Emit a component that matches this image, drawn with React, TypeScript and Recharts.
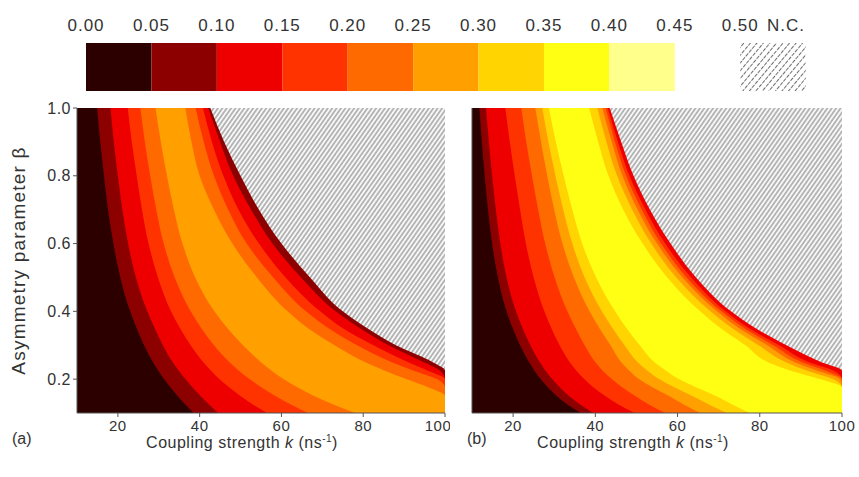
import React from "react";
import { AreaChart, Area, BarChart, Bar, XAxis, YAxis, CartesianGrid } from "recharts";

const betaRows = [1.0, 0.9, 0.8, 0.7, 0.6, 0.5, 0.4, 0.35, 0.3, 0.25, 0.225, 0.2, 0.175, 0.15, 0.125, 0.1];

// panel (a): coupling strength k (ns^-1) of each contour edge, per beta row
const aRise05 = [14.9, 15.7, 16.6, 17.6, 18.9, 20.6, 23, 24.6, 26.4, 28.6, 29.9, 31.3, 32.9, 34.6, 36.5, 38.5];
const aRise10 = [18.2, 19, 20, 21.1, 22.5, 24.4, 27.2, 29, 31, 33.4, 34.9, 36.5, 38.3, 40.2, 42.3, 44.5];
const aRise15 = [22.4, 23.4, 24.6, 25.9, 27.5, 29.8, 33, 35.2, 37.8, 40.9, 42.8, 44.8, 47.3, 50, 53, 56.5];
const aRise20 = [25.5, 26.6, 27.9, 29.4, 31.2, 33.9, 37.8, 40.4, 43.5, 47.3, 49.6, 52.2, 55.2, 58.5, 62.3, 66.5];
const aRise25 = [29.2, 30.5, 32, 33.7, 35.8, 38.9, 43.6, 46.8, 50.6, 55, 57.6, 60.5, 64, 68, 72.7, 78];
const aFall25 = [36.5, 38, 40, 43.5, 48, 54, 61.5, 66.5, 73, 80.5, 85.3, 90.5, 96, 100, 100, 100];
const aFall20 = [39, 41, 43.5, 47, 51.5, 58, 66, 71.5, 78.5, 87, 92.3, 98, 100, 100, 100, 100];
const aFall15 = [40.8, 43, 45.8, 49.5, 54.5, 61, 69.5, 75, 82.5, 91, 95.8, 100, 100, 100, 100, 100];
const aFall10 = [42.1, 45, 48.2, 52.6, 57.8, 64.8, 73.3, 79.2, 86.2, 94.8, 98.8, 100, 100, 100, 100, 100];
const aEdgeNC = [42.6, 46, 50, 54.5, 60, 67, 75, 81, 88, 97, 100, 100, 100, 100, 100, 100];

// panel (b)
const bRise05 = [11.8, 12.4, 13.1, 13.9, 14.9, 16.3, 18.4, 19.9, 21.7, 23.9, 25.2, 26.7, 28.5, 30.6, 33.2, 36.5];
const bRise10 = [13.4, 14.1, 14.9, 15.8, 16.9, 18.4, 20.7, 22.3, 24.2, 26.5, 27.9, 29.5, 31.4, 33.6, 36.3, 39.5];
const bRise15 = [18.1, 19.2, 20.4, 21.7, 23.1, 25, 27.6, 29.3, 31.3, 33.8, 35.4, 37.3, 39.6, 42.4, 45.6, 49.5];
const bRise20 = [22, 23.2, 24.6, 26.1, 27.8, 30.1, 33.2, 35.2, 37.4, 40, 41.8, 44, 46.6, 49.7, 53, 57];
const bRise25 = [25.4, 26.8, 28.3, 30, 32, 34.8, 38.6, 41, 43.7, 46.3, 48.3, 50.6, 54, 57.9, 61.5, 65.5];
const bRise30 = [27.1, 28.6, 30.3, 32.2, 34.4, 37.4, 41.6, 44.2, 47.1, 50.3, 52.7, 55.5, 59.3, 63.6, 67.6, 72];
const bRise35 = [28.7, 30.4, 32.3, 34.4, 36.8, 40.2, 44.8, 47.6, 50.8, 54.4, 57.2, 60.3, 64.6, 69.3, 73.3, 77.5];
const bFall35 = [38.5, 40.7, 43.2, 46.8, 51.5, 57.5, 65.5, 70.5, 76.5, 82, 87.5, 94.6, 100, 100, 100, 100];
const bFall30 = [40.5, 42.7, 45.3, 49, 53.6, 59.7, 68, 73.3, 79.7, 86.3, 91.5, 97.8, 100, 100, 100, 100];
const bFall25 = [41.7, 44, 46.6, 50.3, 55, 61.2, 69.6, 75, 81.8, 88.5, 94, 99.5, 100, 100, 100, 100];
const bFall20 = [42.5, 44.8, 47.5, 51.3, 56, 62.2, 70.7, 76.3, 83.3, 90.3, 96, 100, 100, 100, 100, 100];
const bFall15 = [43, 45.5, 48.3, 52.2, 57, 63.3, 71.7, 77.4, 84.7, 92, 98, 100, 100, 100, 100, 100];
const bEdgeNC = [43.5, 46.3, 49.3, 53.3, 58.3, 64.5, 73, 79, 86.5, 95, 100, 100, 100, 100, 100, 100];

// colour scale
const levelTicks = [0, 0.05, 0.1, 0.15, 0.2, 0.25, 0.3, 0.35, 0.4, 0.45, 0.5];
const levelColors = ["#2d0000", "#8c0000", "#ee0000", "#ff3300", "#ff6a00", "#ffa000", "#ffd400", "#ffff14", "#ffff8c"];
const ncTick = 0.535;

const kTicks = [20, 40, 60, 80, 100];
const betaTicks = [0.2, 0.4, 0.6, 0.8, 1.0];

const font = '"Liberation Sans", Arial, sans-serif';
const frame = "#555";
const ink = "#333";

const rowsA = betaRows.map((beta, i) => ({
  beta,
  aRise05: aRise05[i], aRise10: aRise10[i], aRise15: aRise15[i], aRise20: aRise20[i], aRise25: aRise25[i],
  aFall25: aFall25[i], aFall20: aFall20[i], aFall15: aFall15[i], aFall10: aFall10[i], aEdgeNC: aEdgeNC[i],
}));

const rowsB = betaRows.map((beta, i) => ({
  beta,
  bRise05: bRise05[i], bRise10: bRise10[i], bRise15: bRise15[i], bRise20: bRise20[i], bRise25: bRise25[i],
  bRise30: bRise30[i], bRise35: bRise35[i], bFall35: bFall35[i], bFall30: bFall30[i], bFall25: bFall25[i],
  bFall20: bFall20[i], bFall15: bFall15[i], bEdgeNC: bEdgeNC[i],
}));

// draw order: outermost edge first, each filled from k=10 up to the edge with the band colour left of it
const layersA: [string, number][] = [
  ["aEdgeNC", 1], ["aFall10", 2], ["aFall15", 3], ["aFall20", 4], ["aFall25", 5],
  ["aRise25", 4], ["aRise20", 3], ["aRise15", 2], ["aRise10", 1], ["aRise05", 0],
];
const layersB: [string, number][] = [
  ["bEdgeNC", 2], ["bFall15", 3], ["bFall20", 4], ["bFall25", 5], ["bFall30", 6], ["bFall35", 7],
  ["bRise35", 6], ["bRise30", 5], ["bRise25", 4], ["bRise20", 3], ["bRise15", 2], ["bRise10", 1], ["bRise05", 0],
];

const scaleRow: Record<string, number | string> = { name: "scale" };
levelColors.forEach((_, i) => { scaleRow["l" + i] = levelTicks[i + 1] - levelTicks[i]; });
scaleRow.gap = 0.05;
scaleRow.nc = 0.05;

const xTickStyle = { fontSize: 15, fill: ink, fontFamily: font, letterSpacing: 0.5 };
const yTickStyle = { fontSize: 16, fill: ink, fontFamily: font, letterSpacing: 0.5 };

const HatchDefs = ({ id }: { id: string }) => (
  <defs>
    <pattern id={id} width="3.6" height="3.6" patternUnits="userSpaceOnUse" patternTransform="rotate(35)">
      <rect width="3.6" height="3.6" fill="#f7f7f7" />
      <line x1="1.8" y1="0" x2="1.8" y2="3.6" stroke="#7d7d7d" strokeWidth="1" />
    </pattern>
  </defs>
);

const Panel = ({ rows, layers, id, width, yWidth, right, labels }: any) => (
  <AreaChart width={width} height={350} data={rows} layout="vertical" margin={{ top: 18, right, left: 0, bottom: 0 }}>
    <HatchDefs id={id} />
    <CartesianGrid horizontal={false} vertical={false} fill={`url(#${id})`} />
    <XAxis type="number" domain={[10, 100]} ticks={kTicks} tickSize={4} tickMargin={3} height={27} stroke={frame} tick={xTickStyle} />
    <XAxis xAxisId="top" orientation="top" type="number" domain={[10, 100]} height={0} tick={false} tickLine={false} stroke={frame} />
    <YAxis
      type="number" dataKey="beta" domain={[0.1, 1]} reversed ticks={betaTicks} width={yWidth} tickSize={4} stroke={frame}
      tick={labels ? yTickStyle : false} tickFormatter={(v: number) => v.toFixed(1)}
      label={labels ? { value: "Asymmetry parameter \u03b2", angle: -90, position: "center", dx: -20, style: { fontSize: 19, fill: ink, fontFamily: font, letterSpacing: 1.2 } } : undefined}
    />
    <YAxis yAxisId="right" orientation="right" type="number" domain={[0.1, 1]} reversed width={0} tick={false} tickLine={false} stroke={frame} />
    {layers.map(([key, level]: [string, number]) => (
      <Area key={key} dataKey={key} type="monotone" baseValue={10} fill={levelColors[level]} fillOpacity={1}
        stroke="none" dot={false} activeDot={false} isAnimationActive={false} />
    ))}
  </AreaChart>
);

const Title = ({ left }: { left: number }) => (
  <div style={{ position: "absolute", left, top: 430, width: 210, textAlign: "center", fontSize: 16, color: ink, fontFamily: font, letterSpacing: 0.5, lineHeight: "18px" }}>
    Coupling strength <i>k</i> (ns<span style={{ fontSize: 10, verticalAlign: 6 }}>-1</span>)
  </div>
);

export default function App() {
  return (
    <div style={{ position: "absolute", left: 0, top: 0, width: 859, height: 477, background: "#fff", fontFamily: font }}>
      <div style={{ position: "absolute", left: 0, top: 0 }}>
        <BarChart width={859} height={100} data={[scaleRow]} layout="vertical" margin={{ top: 0, right: 1, left: 86, bottom: 9 }} barCategoryGap={0}>
          <defs>
            <pattern id="ncKey" width="5" height="5" patternUnits="userSpaceOnUse" patternTransform="rotate(40)">
              <rect width="5" height="5" fill="#fff" />
              <line x1="2.5" y1="0" x2="2.5" y2="3.8" stroke="#6a6a6a" strokeWidth="1" />
            </pattern>
          </defs>
          <XAxis type="number" orientation="top" domain={[0, 0.59]} ticks={[...levelTicks, ncTick]} height={43}
            axisLine={false} tickLine={false} tickSize={0} tickMargin={12} interval={0}
            tick={{ fontSize: 17, fill: ink, fontFamily: font, letterSpacing: 1 }}
            tickFormatter={(v: number) => (v > 0.51 ? "N.C." : v.toFixed(2))} />
          <YAxis type="category" dataKey="name" hide />
          {levelColors.map((c, i) => (
            <Bar key={c} dataKey={"l" + i} stackId="s" fill={c} isAnimationActive={false} />
          ))}
          <Bar dataKey="gap" stackId="s" fill="none" isAnimationActive={false} />
          <Bar dataKey="nc" stackId="s" fill="url(#ncKey)" isAnimationActive={false} />
        </BarChart>
      </div>
      <div style={{ position: "absolute", left: 0, top: 90 }}>
        <Panel rows={rowsA} layers={layersA} id="ncA" width={450} yWidth={77} right={5} labels />
      </div>
      <div style={{ position: "absolute", left: 460, top: 90 }}>
        <Panel rows={rowsB} layers={layersB} id="ncB" width={399} yWidth={12} right={17} labels={false} />
      </div>
      <div style={{ position: "absolute", left: 12, top: 430, fontSize: 16, color: ink, lineHeight: "18px" }}>(a)</div>
      <Title left={137} />
      <div style={{ position: "absolute", left: 467, top: 430, fontSize: 16, color: ink, lineHeight: "18px" }}>(b)</div>
      <Title left={528} />
    </div>
  );
}
